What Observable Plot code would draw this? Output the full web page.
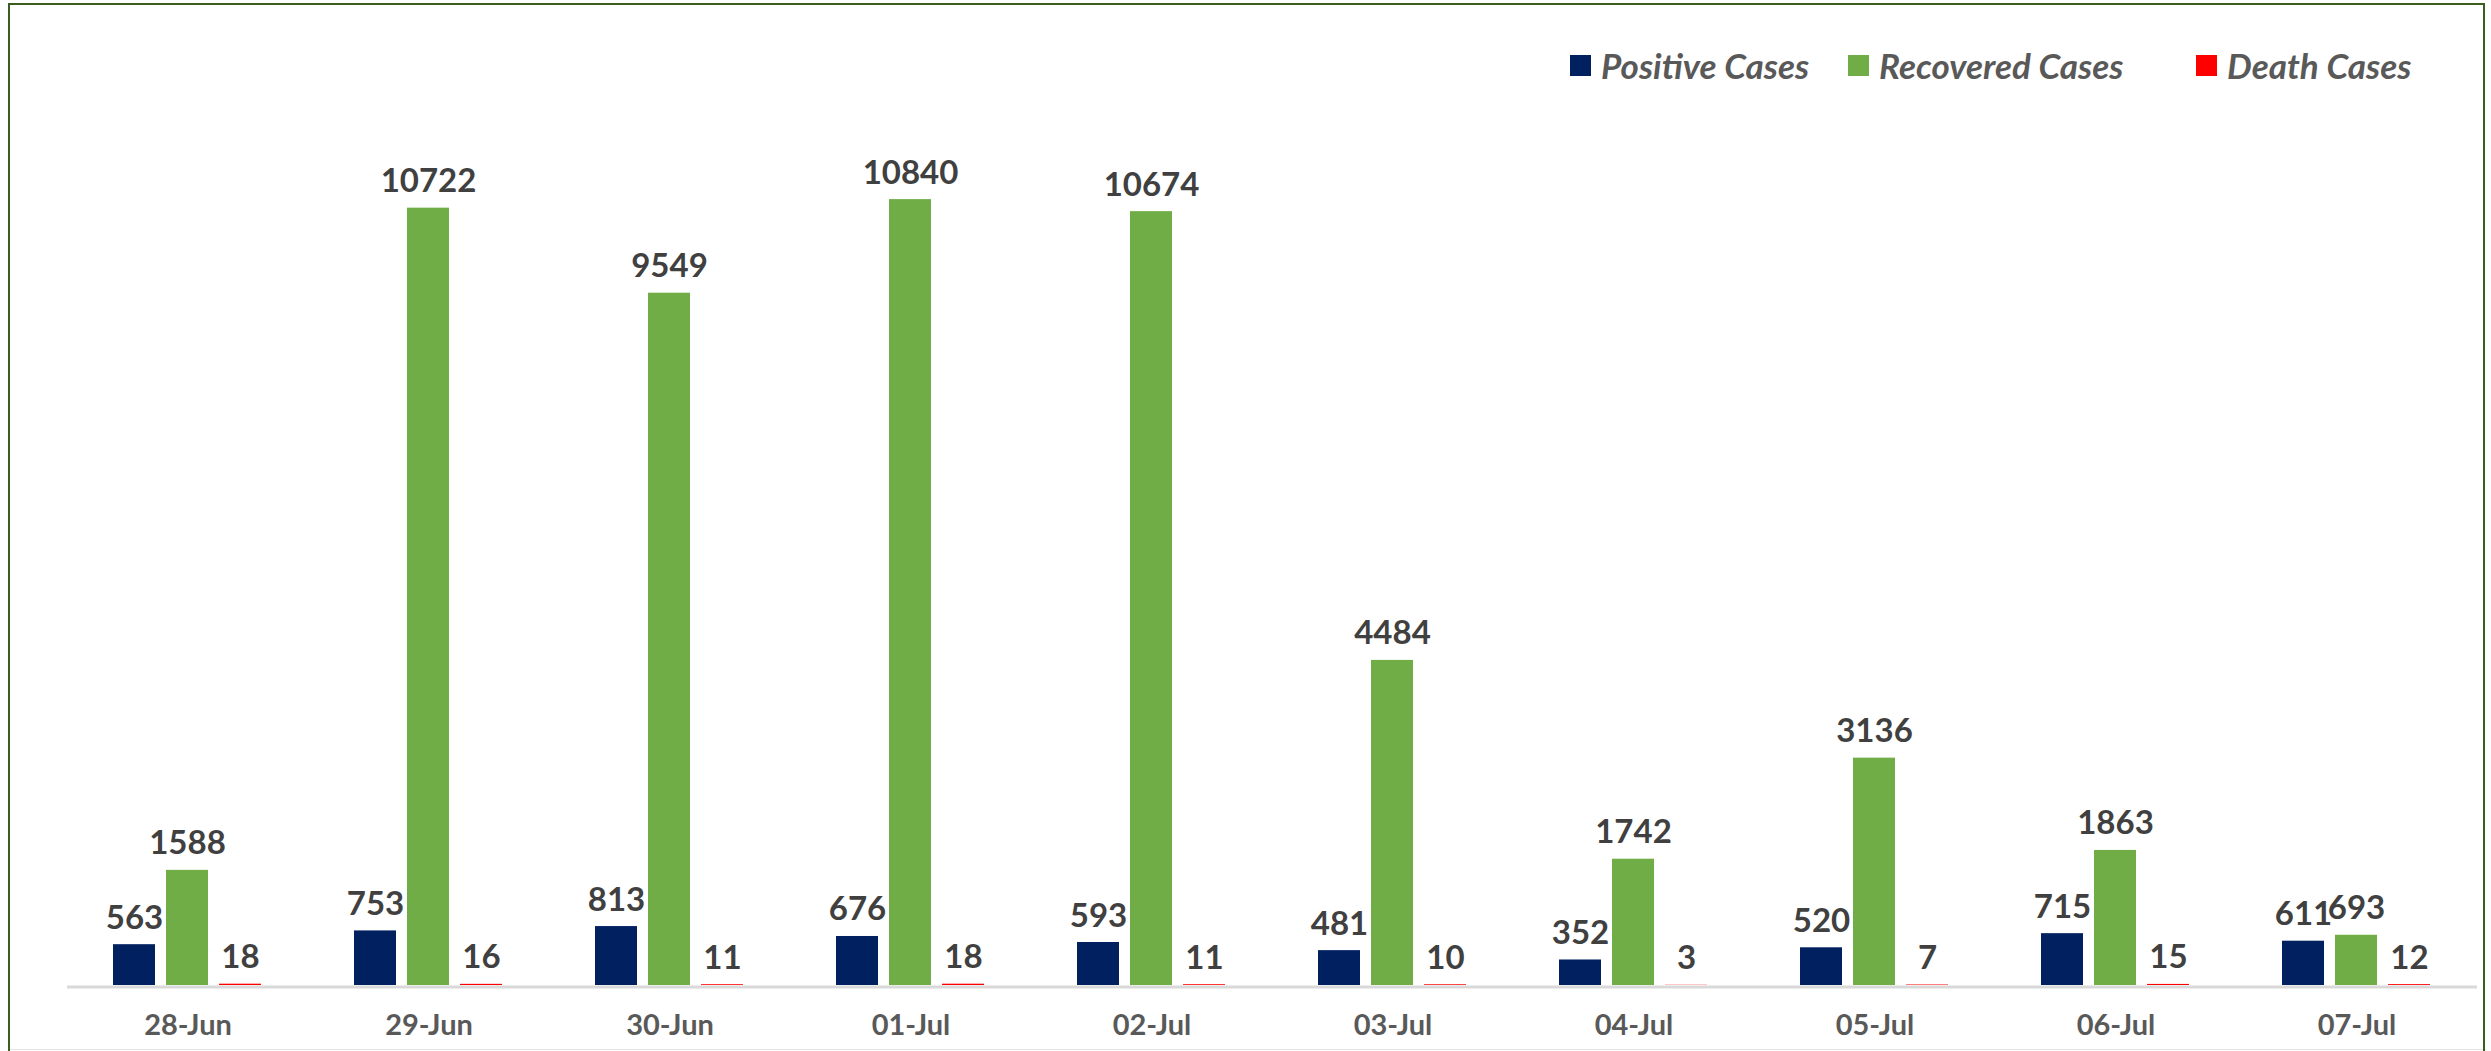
<!DOCTYPE html>
<html>
<head>
<meta charset="utf-8">
<script src="https://cdn.jsdelivr.net/npm/d3@7"></script>
<script src="https://cdn.jsdelivr.net/npm/@observablehq/plot@0.6"></script>
<style>
  html, body { margin: 0; padding: 0; background: #fff; }
  #wrap { position: relative; width: 2491px; height: 1051px; overflow: hidden; font-family: Lato, "Open Sans", sans-serif; }
  #frame { position: absolute; left: 8px; top: 3px; width: 2477px; height: 1060px; border: 2.5px solid #3B5E1F; box-sizing: border-box; pointer-events: none; }
  #bottomline { position: absolute; left: 10px; top: 1049px; width: 2476px; height: 1px; background: #E3E3E3; }
  #chart { position: absolute; left: 0; top: 0; }
  .legend-item { position: absolute; top: 43px; height: 44px; display: flex; align-items: center; font-style: italic; font-weight: 700; font-size: 35px; color: #595959; white-space: nowrap; }
  .legend-item .sw { width: 21px; height: 21px; margin-right: 10px; }
</style>
</head>
<body>
<div id="wrap">
  <div id="chart"></div>
  <div id="legend"></div>
  <div id="bottomline"></div>
  <div id="frame"></div>
</div>
<script>
const dates = ["28-Jun", "29-Jun", "30-Jun", "01-Jul", "02-Jul", "03-Jul", "04-Jul", "05-Jul", "06-Jul", "07-Jul"];
const positiveCases = [563, 753, 813, 676, 593, 481, 352, 520, 715, 611];
const recoveredCases = [1588, 10722, 9549, 10840, 10674, 4484, 1742, 3136, 1863, 693];
const deathCases = [18, 16, 11, 18, 11, 10, 3, 7, 15, 12];
const seriesNames = ["Positive Cases", "Recovered Cases", "Death Cases"];
const seriesColors = ["#002060", "#70AD47", "#FF0000"];
const legendLefts = [1570, 1848, 2196];

const seriesValues = [positiveCases, recoveredCases, deathCases];
const data = dates.flatMap((d, i) => seriesNames.map((s, k) => ({date: d, series: s, value: seriesValues[k][i]})));

const chart = Plot.plot({
  width: 2491,
  height: 1051,
  marginLeft: 63,
  marginRight: 11,
  marginTop: 115,
  marginBottom: 66,
  style: {fontFamily: "Lato, 'Open Sans', sans-serif", background: "transparent"},
  fx: {domain: dates, padding: 0, label: null},
  x: {domain: seriesNames, axis: null, paddingInner: 0.206, paddingOuter: 0.862},
  y: {domain: [0, 12000], axis: null},
  color: {domain: seriesNames, range: seriesColors},
  marks: [
    Plot.axisFx({anchor: "bottom", tickSize: 0, tickPadding: 29, fontSize: 29, fontWeight: 700, fill: "#595959", label: null}),
    Plot.ruleY([0], {stroke: "#D9D9D9", strokeWidth: 3, dy: 1.5}),
    Plot.barY(data, {fx: "date", x: "series", y: "value", fill: "series"}),
    Plot.text(data, {fx: "date", x: "series", y: "value", text: d => String(d.value), lineAnchor: "bottom", dy: -16, fontSize: 33, fontWeight: 700, fill: "#404040"})
  ]
});
document.getElementById("chart").appendChild(chart);

const legend = document.getElementById("legend");
seriesNames.forEach((s, k) => {
  const item = document.createElement("div");
  item.className = "legend-item";
  item.style.left = legendLefts[k] + "px";
  const sw = document.createElement("span");
  sw.className = "sw";
  sw.style.background = seriesColors[k];
  const t = document.createElement("span");
  t.textContent = s;
  item.appendChild(sw);
  item.appendChild(t);
  legend.appendChild(item);
});
</script>
</body>
</html>
